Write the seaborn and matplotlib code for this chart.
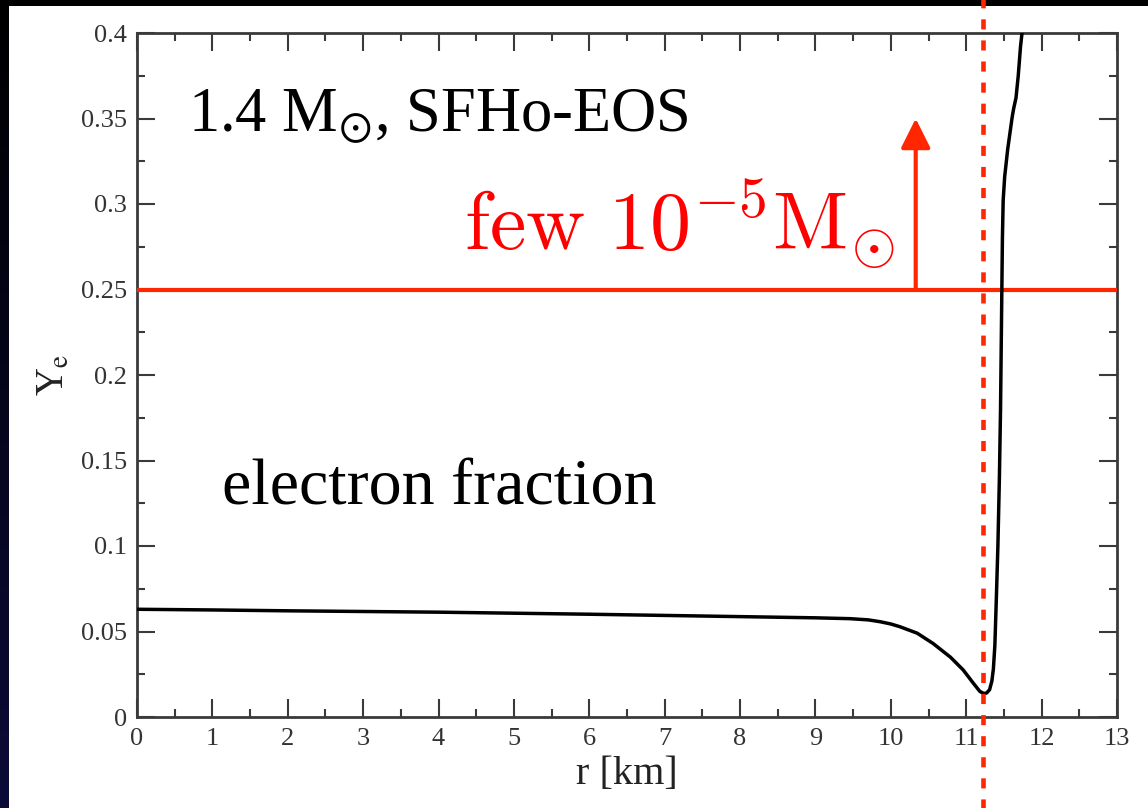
import numpy as np
import pandas as pd
import matplotlib
matplotlib.use("Agg")
import matplotlib.pyplot as plt
from matplotlib.ticker import FixedLocator, MultipleLocator, FixedFormatter
import seaborn as sns

# Electron fraction profile of a 1.4 Msun neutron star (SFHo EOS)
r_km = [0.0, 1.0, 2.0, 3.0, 4.0, 5.0, 6.0, 7.0, 8.0, 9.0, 9.46, 9.7, 9.86,
        10.0, 10.12, 10.35, 10.56, 10.79, 10.96, 11.09, 11.18, 11.23, 11.27,
        11.31, 11.34, 11.36, 11.38, 11.40, 11.42, 11.44, 11.455, 11.47, 11.48,
        11.49, 11.51, 11.55, 11.61, 11.63, 11.66, 11.69, 11.72, 11.74]
ye = [0.0630, 0.0626, 0.0621, 0.0617, 0.0613, 0.0607, 0.0601, 0.0594, 0.0587,
      0.0580, 0.0575, 0.0568, 0.0557, 0.0544, 0.0528, 0.0490, 0.0430, 0.0350,
      0.0275, 0.0200, 0.0150, 0.0138, 0.0140, 0.0160, 0.0210, 0.0280, 0.0420,
      0.0700, 0.1000, 0.1400, 0.1800, 0.2400, 0.2800, 0.3020, 0.3160, 0.3320,
      0.3510, 0.3560, 0.3620, 0.3750, 0.3920, 0.4000]

x_ticks = [0, 1, 2, 3, 4, 5, 6, 7, 8, 9, 10, 11, 12, 13]
y_ticks = [0.0, 0.05, 0.1, 0.15, 0.2, 0.25, 0.3, 0.35, 0.4]
y_tick_labels = ["0", "0.05", "0.1", "0.15", "0.2", "0.25", "0.3", "0.35", "0.4"]

threshold_ye = 0.25          # horizontal marker level
surface_r = 11.22            # dashed vertical marker
arrow_r = 10.33              # position of the upward arrow
arrow_top = 0.350

df = pd.DataFrame({"r": r_km, "Ye": ye})

sns.set_theme(style="ticks")
plt.rcParams["font.family"] = ["Liberation Serif", "DejaVu Serif"]

RED_LINE = "#ff2600"
RED_TEXT = "#ff0000"
AXIS_GREY = "#3a3a3a"

W, H = 1148, 808
fig = plt.figure(figsize=(W / 100, H / 100), dpi=100, facecolor="black")

# slide backdrop: dark strip on the left, white panel for the plot
bg = fig.add_axes([0, 0, 1, 1], zorder=-10)
bg.set_axis_off()
grad = np.linspace(0, 1, 256).reshape(-1, 1)
bg.imshow(grad, extent=[0, 1, 0, 1], aspect="auto", origin="upper",
          cmap=matplotlib.colors.LinearSegmentedColormap.from_list(
              "slide", ["#000000", "#0b0b38"]))
bg.add_patch(plt.Rectangle((9 / W, 0), 1 - 9 / W, 1 - 6 / H,
                           transform=bg.transAxes, facecolor="white",
                           edgecolor="none"))
bg.set_xlim(0, 1)
bg.set_ylim(0, 1)

ax = fig.add_axes([137 / W, (H - 717) / H, (1117 - 137) / W, (717 - 33) / H])
ax.set_facecolor("white")

line_ax = sns.lineplot(data=df, x="r", y="Ye", ax=ax, color="black",
                       linewidth=2.5, sort=False, estimator=None, zorder=4)
for ln in line_ax.lines:
    ln.set_solid_joinstyle("round")
    ln.set_solid_capstyle("round")

ax.set_xlim(0, 13)
ax.set_ylim(0, 0.4)

ax.xaxis.set_major_locator(FixedLocator(x_ticks))
ax.xaxis.set_minor_locator(MultipleLocator(0.5))
ax.yaxis.set_major_locator(FixedLocator(y_ticks))
ax.yaxis.set_major_formatter(FixedFormatter(y_tick_labels))
ax.yaxis.set_minor_locator(MultipleLocator(0.025))

for s in ax.spines.values():
    s.set_visible(True)
    s.set_color(AXIS_GREY)
    s.set_linewidth(2.0)

ax.tick_params(which="both", direction="in", top=True, right=True,
               color=AXIS_GREY, width=1.5, labelcolor="#333333")
ax.tick_params(which="major", length=13, labelsize=19)
ax.tick_params(which="minor", length=6)
ax.tick_params(axis="x", which="major", pad=8)
ax.tick_params(axis="y", which="major", pad=7)

ax.set_xlabel("r [km]", fontsize=29, color="#222222", labelpad=4)
ax.set_ylabel(r"Y$_{\mathrm{e}}$", fontsize=28, color="#222222",
              labelpad=6, math_fontfamily="stix")

# threshold level, arrow and surface marker
ax.axhline(threshold_ye, color=RED_LINE, linewidth=3.0, zorder=3)
ax.annotate("", xy=(arrow_r, arrow_top), xytext=(arrow_r, threshold_ye),
            arrowprops=dict(arrowstyle="-|>,head_length=1.0,head_width=0.5",
                            mutation_scale=18, color=RED_LINE, lw=3.0,
                            shrinkA=0, shrinkB=0), zorder=3)
ax.axvline(surface_r, ymin=-0.14, ymax=1.06, clip_on=False, color=RED_LINE,
           linewidth=3.3, linestyle=(0, (2.2, 2.4)), dash_capstyle="butt",
           zorder=5)

ax.text(0.68, 0.342, r"1.4 M$_{\odot}$, SFHo-EOS", fontsize=45,
        ha="left", va="baseline", color="black", math_fontfamily="stix")
ax.text(1.13, 0.124, "electron fraction", fontsize=47.5, ha="left",
        va="baseline", color="black")
ax.text(4.34, 0.273, r"$\mathrm{few}\ 10^{-5}\mathrm{M}_{\odot}$", fontsize=59,
        ha="left", va="baseline", color=RED_TEXT, math_fontfamily="cm")

fig.savefig("out.png", dpi=100, facecolor=fig.get_facecolor())
